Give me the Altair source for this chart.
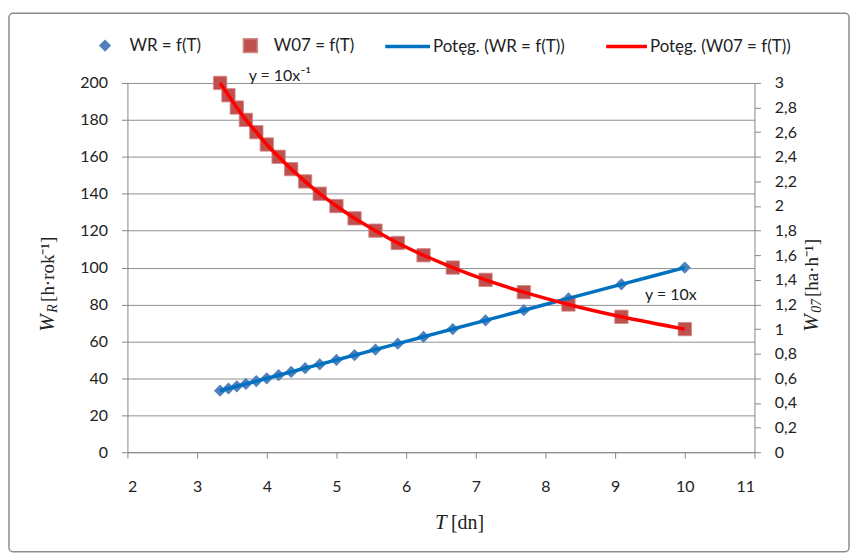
import altair as alt
import pandas as pd

# ---- data ----
T = [3.33, 3.45, 3.57, 3.70, 3.85, 4.00, 4.17, 4.35, 4.55, 4.76, 5.00,
     5.26, 5.56, 5.88, 6.25, 6.67, 7.14, 7.69, 8.33, 9.09, 10.0]
WR = [33.3, 34.5, 35.7, 37.0, 38.5, 40.0, 41.7, 43.5, 45.5, 47.6, 50.0,
      52.6, 55.6, 58.8, 62.5, 66.7, 71.4, 76.9, 83.3, 90.9, 100.0]
W07 = [3.0, 2.9, 2.8, 2.7, 2.6, 2.5, 2.4, 2.3, 2.2, 2.1, 2.0,
       1.9, 1.8, 1.7, 1.6, 1.5, 1.4, 1.3, 1.2, 1.1, 1.0]

series_names = ["WR = f(T)", "W07 = f(T)", "Potęg. (WR = f(T))", "Potęg. (W07 = f(T))"]

x_ticks = [2, 3, 4, 5, 6, 7, 8, 9, 10, 11]
left_ticks = [0, 20, 40, 60, 80, 100, 120, 140, 160, 180, 200]
right_ticks = [0, 0.2, 0.4, 0.6, 0.8, 1.0, 1.2, 1.4, 1.6, 1.8, 2.0,
               2.2, 2.4, 2.6, 2.8, 3.0]

eq_T = [3.74, 9.43]
eq_W = [204, 85]
eq_text = ["y = 10x⁻¹", "y = 10x"]

df = pd.DataFrame({"T": T, "WR": WR, "W07": W07})
df["s1"] = series_names[0]
df["s2"] = series_names[1]
df["s3"] = series_names[2]
df["s4"] = series_names[3]
df_eq = pd.DataFrame({"T": eq_T, "W": eq_W, "label": eq_text})
one = pd.DataFrame({"a": [0]})

FONT = "Lato"
SERIF = "Liberation Serif"
AX = "#868686"
TXT = "#222222"

x_enc = alt.X("T:Q", scale=alt.Scale(domain=[2, 11], nice=False),
              axis=alt.Axis(values=x_ticks, title=None, grid=False, tickSize=6,
                            labelPadding=20, format="d"))

y_left_scale = alt.Scale(domain=[0, 200], nice=False)
y_right_scale = alt.Scale(domain=[0, 3], nice=False)

left_axis = alt.Axis(orient="left", values=left_ticks, title=None, grid=True,
                     gridColor="#8f8f8f", gridWidth=1, tickSize=6, labelPadding=14)
right_axis = alt.Axis(orient="right", values=right_ticks, title=None, grid=False,
                      tickSize=6, labelPadding=14,
                      labelExpr="replace(format(datum.value, '.1~f'), '.', ',')")

frame = alt.Chart(one).mark_rect(fillOpacity=0, stroke="#8c8c8c", strokeWidth=1.5,
                                 cornerRadius=4).encode(
    x=alt.value(-119), x2=alt.value(725), y=alt.value(-70), y2=alt.value(471))

p_wr = alt.Chart(df).mark_point(shape="diamond", filled=True, size=150, opacity=1).encode(
    x=x_enc,
    y=alt.Y("WR:Q", scale=y_left_scale, axis=left_axis),
    color=alt.Color("s1:N", scale=alt.Scale(range=["#4F81BD"]),
                    legend=alt.Legend(orient="none", legendX=-31, legendY=-46, title=None,
                                      symbolType="diamond", symbolSize=150, labelOffset=16)))

p_w07 = alt.Chart(df).mark_point(shape="square", filled=True, size=180, opacity=1,
                                 stroke="#d08a88", strokeWidth=0.8).encode(
    x=x_enc,
    y=alt.Y("W07:Q", scale=y_right_scale, axis=right_axis),
    color=alt.Color("s2:N", scale=alt.Scale(range=["#C0504D"]),
                    legend=alt.Legend(orient="none", legendX=115, legendY=-46, title=None,
                                      symbolType="square", symbolSize=196, labelOffset=15)))

l_wr = alt.Chart(df).mark_line(strokeWidth=3.5, interpolate="monotone").encode(
    x=x_enc,
    y=alt.Y("WR:Q", scale=y_left_scale, axis=None),
    color=alt.Color("s3:N", scale=alt.Scale(range=["#0070C0"]),
                    legend=alt.Legend(orient="none", legendX=257, legendY=-61, title=None,
                                      symbolType="stroke", symbolSize=2025,
                                      symbolStrokeWidth=3.5, labelOffset=1)))

l_w07 = alt.Chart(df).mark_line(strokeWidth=3.5, interpolate="monotone").encode(
    x=x_enc,
    y=alt.Y("W07:Q", scale=y_right_scale, axis=None),
    color=alt.Color("s4:N", scale=alt.Scale(range=["#FF0000"]),
                    legend=alt.Legend(orient="none", legendX=479, legendY=-59, title=None,
                                      symbolType="stroke", symbolSize=1681,
                                      symbolStrokeWidth=3.5, labelOffset=1)))

eq = alt.Chart(df_eq).mark_text(align="left", baseline="middle", font=FONT,
                                fontSize=16, color=TXT).encode(
    x=x_enc,
    y=alt.Y("W:Q", scale=y_left_scale, axis=None),
    text="label:N")


def label(txt, x, y, size, italic=False, angle=0, align="left"):
    kw = dict(font=SERIF, fontSize=size, color=TXT, align=align, baseline="middle")
    if italic:
        kw["fontStyle"] = "italic"
    if angle:
        kw["angle"] = angle
    return alt.Chart(one).mark_text(**kw).encode(
        x=alt.value(x), y=alt.value(y), text=alt.value(txt))


titles = [
    # left title  W_R [h·rok-1]
    label("W", -80, 250, 21, italic=True, angle=270),
    label("R", -75, 231, 14, italic=True, angle=270),
    label("[h·rok⁻¹]", -80, 220, 19, angle=270),
    # right title W_07 [ha·h-1]
    label("W", 688, 250, 21, italic=True, angle=270),
    label("07", 693, 231, 14, italic=True, angle=270),
    label("[ha·h⁻¹]", 688, 215, 19, angle=270),
    # x title T [dn]
    label("T", 309, 442, 21, italic=True),
    label("[dn]", 325, 442, 20),
]

chart = alt.layer(frame, p_wr, p_w07, l_wr, l_w07, eq, *titles).resolve_scale(
    y="independent", color="independent"
).properties(
    width=630, height=371,
    padding={"left": 120, "top": 74, "right": 98, "bottom": 102},
    autosize="none",
).configure_view(stroke=None).configure_axis(
    labelFont=FONT, labelFontSize=16, labelColor=TXT,
    domainColor=AX, tickColor=AX, domainWidth=1, tickWidth=1,
).configure_legend(
    labelFont=FONT, labelFontSize=17, labelColor=TXT, padding=0,
)

chart.save("out.html", embed_options={"renderer": "svg", "actions": False})
